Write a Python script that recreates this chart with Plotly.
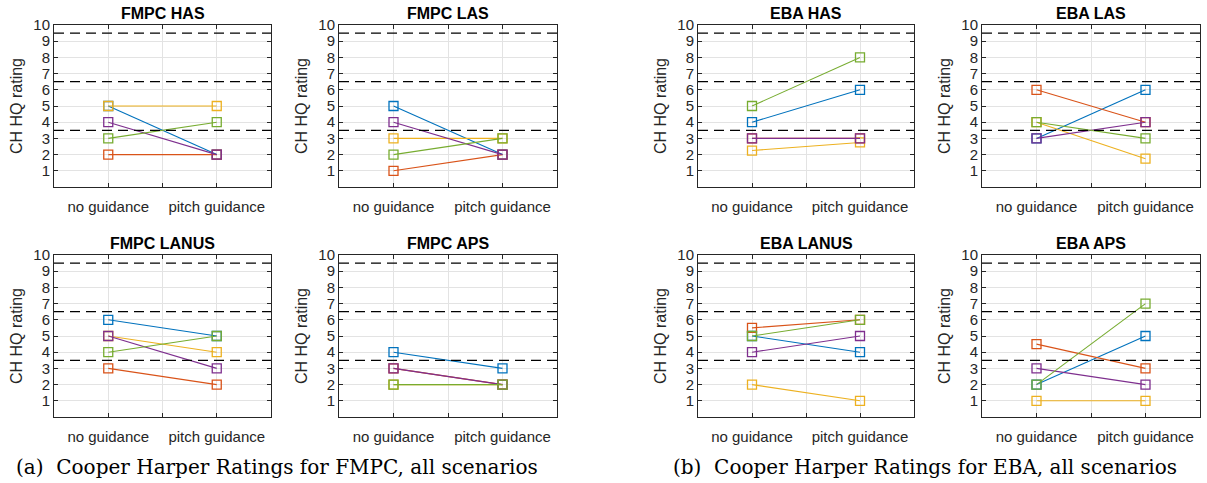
import plotly.graph_objects as go

# Cooper-Harper handling-quality ratings per pilot, without and with pitch guidance
conditions = ["no guidance", "pitch guidance"]
x_pos = [1, 2]
pilot_colors = ["#0072BD", "#D95319", "#EDB120", "#7E2F8E", "#77AC30"]
level_bounds = [3.5, 6.5, 9.5]

fmpc_has = [[5, 2], [2, 2], [5, 5], [4, 2], [3, 4]]
fmpc_las = [[5, 2], [1, 2], [3, 3], [4, 2], [2, 3]]
fmpc_lanus = [[6, 5], [3, 2], [5, 4], [5, 3], [4, 5]]
fmpc_aps = [[4, 3], [3, 2], [2, 2], [3, 2], [2, 2]]
eba_has = [[4, 6], [3, 3], [2.25, 2.75], [3, 3], [5, 8]]
eba_las = [[3, 6], [6, 4], [4, 1.75], [3, 4], [4, 3]]
eba_lanus = [[5, 4], [5.5, 6], [2, 1], [4, 5], [5, 6]]
eba_aps = [[2, 5], [4.5, 3], [1, 1], [3, 2], [2, 7]]

panels = [
    ("FMPC HAS", fmpc_has), ("FMPC LAS", fmpc_las),
    ("EBA HAS", eba_has), ("EBA LAS", eba_las),
    ("FMPC LANUS", fmpc_lanus), ("FMPC APS", fmpc_aps),
    ("EBA LANUS", eba_lanus), ("EBA APS", eba_aps),
]

W, H = 1207, 483
col_px = [(54, 271), (339, 557), (698, 914), (982, 1200)]
row_px = [(25, 187), (255, 417)]

AX_FONT = "Liberation Sans, Arial, sans-serif"
INK = "#262626"

fig = go.Figure()
layout = dict(width=W, height=H, margin=dict(l=0, r=0, t=0, b=0, autoexpand=False),
              paper_bgcolor="white", plot_bgcolor="white", showlegend=False)
annotations = []
shapes = []

for i, (name, series) in enumerate(panels):
    r, c = divmod(i, 4)
    n = i + 1
    xa = "x" if n == 1 else f"x{n}"
    ya = "y" if n == 1 else f"y{n}"
    xkey = "xaxis" if n == 1 else f"xaxis{n}"
    ykey = "yaxis" if n == 1 else f"yaxis{n}"
    x0, x1 = col_px[c]
    ytop, ybot = row_px[r]
    xd = [x0 / W, x1 / W]
    yd = [1 - ybot / H, 1 - ytop / H]

    for vals, color in zip(series, pilot_colors):
        fig.add_trace(go.Scatter(
            x=x_pos, y=vals, mode="lines+markers", xaxis=xa, yaxis=ya,
            line=dict(color=color, width=1.1),
            marker=dict(symbol="square-open", size=9, color=color,
                        line=dict(width=1.3, color=color)),
        ))

    layout[xkey] = dict(
        domain=xd, anchor=ya, range=[0.5, 2.5], automargin=False,
        tickvals=[1, 1.5, 2], ticktext=[conditions[0], "", conditions[1]],
        showgrid=True, gridcolor="#e3e3e3", gridwidth=1,
        showline=True, linecolor=INK, linewidth=1, mirror="ticks",
        ticks="inside", ticklen=4, tickcolor=INK,
        tickfont=dict(family=AX_FONT, size=15, color=INK),
        ticklabelstandoff=6, zeroline=False, fixedrange=True,
    )
    layout[ykey] = dict(
        domain=yd, anchor=xa, range=[0, 10], automargin=False,
        tickvals=list(range(1, 11)),
        showgrid=True, gridcolor="#e3e3e3", gridwidth=1,
        showline=True, linecolor=INK, linewidth=1, mirror="ticks",
        ticks="inside", ticklen=4, tickcolor=INK,
        tickfont=dict(family=AX_FONT, size=15, color=INK),
        title=dict(text="CH HQ rating", standoff=6,
                   font=dict(family=AX_FONT, size=16, color=INK)),
        zeroline=False, fixedrange=True,
    )

    annotations.append(dict(
        text=f"<b>{name}</b>", xref="paper", yref="paper",
        x=(xd[0] + xd[1]) / 2, y=yd[1], xanchor="center", yanchor="bottom",
        yshift=1, showarrow=False,
        font=dict(family=AX_FONT, size=16, color="black"),
    ))

    for lvl in level_bounds:
        shapes.append(dict(
            type="line", xref=f"{xa} domain", yref=ya,
            x0=0, x1=1, y0=lvl, y1=lvl,
            line=dict(color="black", width=1.2, dash="10px,6px"),
        ))

captions = [
    ("(a)  Cooper Harper Ratings for FMPC, all scenarios", 277 / W),
    ("(b)  Cooper Harper Ratings for EBA, all scenarios", 925 / W),
]
for text, xc in captions:
    annotations.append(dict(
        text=text, xref="paper", yref="paper", x=xc, y=1 - 467 / H,
        xanchor="center", yanchor="middle", showarrow=False,
        font=dict(family="DejaVu Serif, serif", size=20, color="black"),
    ))

layout["annotations"] = annotations
layout["shapes"] = shapes
fig.update_layout(**layout)
fig.write_html("out.html")
